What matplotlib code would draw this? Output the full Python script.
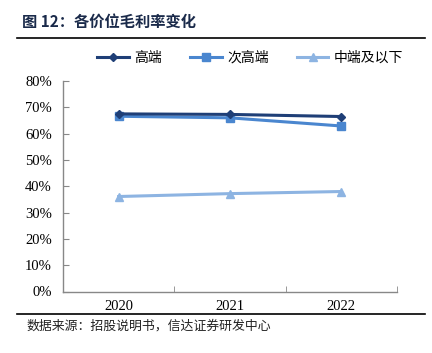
import numpy as np
import matplotlib
matplotlib.use("Agg")
import matplotlib.pyplot as plt
from matplotlib.lines import Line2D

plt.rcParams['font.family'] = ['Noto Sans CJK SC', 'DejaVu Sans']

#*************** DATA ******************#
years = ['2020', '2021', '2022']
high = [67.5, 67.3, 66.5]      # 高端
second = [66.6, 66.0, 62.9]    # 次高端
low = [36.1, 37.2, 38.0]       # 中端及以下
yticks = [0, 10, 20, 30, 40, 50, 60, 70, 80]

c_high = '#1F3F77'
c_second = '#4A86CF'
c_low = '#8DB4E2'

fig = plt.figure(figsize=(4.32, 3.53), dpi=100)
W, H = 432., 353.
ax = fig.add_axes([63 / W, 1 - 291.5 / H, (397 - 63) / W, (291.5 - 81) / H])

x = np.arange(len(years))
ax.plot(x, high, color=c_high, lw=2.2, marker='D', ms=4, label='高端', zorder=4)
ax.plot(x, second, color=c_second, lw=2.2, marker='s', ms=6, label='次高端', zorder=3)
ax.plot(x, low, color=c_low, lw=2.2, marker='^', ms=6, label='中端及以下', zorder=2)

ax.set_xlim(-0.5, 2.5)
ax.set_ylim(0, 80)
ax.set_yticks(yticks)
ax.set_yticklabels(['%d%%' % v for v in yticks], family='Liberation Serif', fontsize=10.5)
ax.set_xticks(x)
ax.set_xticklabels(years, family='Liberation Serif', fontsize=10.5)
ax.set_xticks([0.5, 1.5, 2.5], minor=True)
ax.tick_params(axis='x', which='major', length=0, pad=6)
ax.tick_params(axis='x', which='minor', direction='in', length=4, color='#888888')
ax.tick_params(axis='y', direction='in', length=4, color='#888888', pad=8)

for s in ['top', 'right']:
    ax.spines[s].set_visible(False)
for s in ['left', 'bottom']:
    ax.spines[s].set_color('#888888')
    ax.spines[s].set_linewidth(1.0)

# legend
handles = [Line2D([], [], color=c_high, lw=2.2, marker='D', ms=4),
           Line2D([], [], color=c_second, lw=2.2, marker='s', ms=6),
           Line2D([], [], color=c_low, lw=2.2, marker='^', ms=6)]
fig.legend(handles, ['高端', '次高端', '中端及以下'], loc='center',
           bbox_to_anchor=(250 / W, 1 - 58 / H), ncol=3, frameon=False,
           fontsize=10, handlelength=2.3, columnspacing=2.0, handletextpad=0.4)

# title + rules
fig.text(22 / W, 1 - 22 / H, '图 12：各价位毛利率变化', fontsize=11, fontweight='bold',
         color='#1a2a4a', va='center', ha='left')
fig.add_artist(Line2D([17 / W, 425 / W], [1 - 38 / H, 1 - 38 / H], color='black', lw=1.2))
fig.add_artist(Line2D([17 / W, 425 / W], [1 - 314 / H, 1 - 314 / H], color='black', lw=1.2))
fig.text(26 / W, 1 - 326 / H, '数据来源：招股说明书，信达证券研发中心', fontsize=9.3,
         color='#222222', va='center', ha='left', style='italic')

fig.savefig('out.png', dpi=100)
